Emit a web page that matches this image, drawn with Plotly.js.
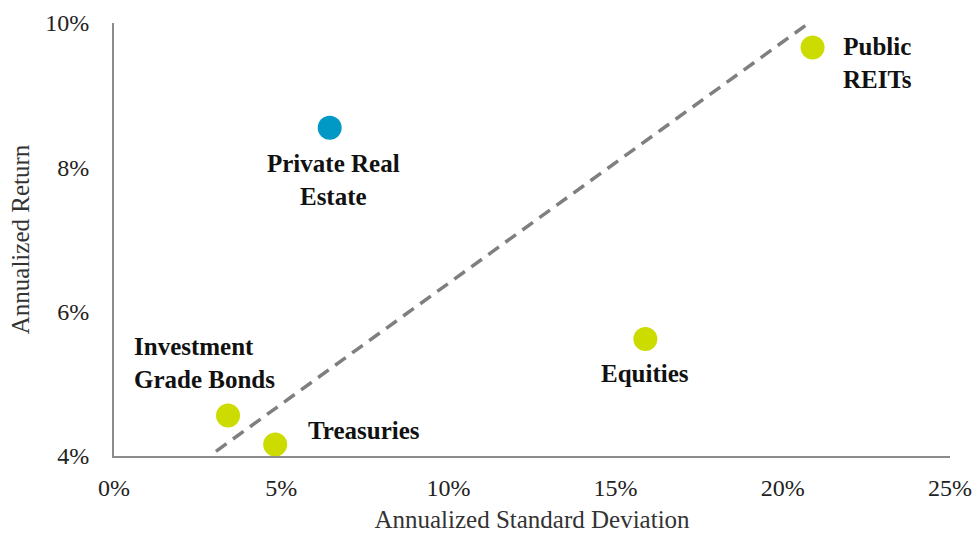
<!DOCTYPE html>
<html>
<head>
<meta charset="utf-8">
<script src="https://cdn.plot.ly/plotly-3.0.1.min.js"></script>
<style>html,body{margin:0;padding:0;background:#fff;}#chart{width:976px;height:533px;}</style>
</head>
<body>
<div id="chart"></div>
<script>
// Data (percent units)
const names = ["Private Real<br>Estate", "Public<br>REITs", "Equities", "Investment<br>Grade Bonds", "Treasuries"];
const stdDev = [6.45, 20.89, 15.89, 3.41, 4.82];
const annReturn = [8.55, 9.66, 5.62, 4.56, 4.16];
const pointColors = ["#0099C6", "#CDDC00", "#CDDC00", "#CDDC00", "#CDDC00"];
const trendX = [3.05, 20.9];
const trendY = [4.065, 10.04];
const xTicks = [0, 5, 10, 15, 20, 25];
const yTicks = [4, 6, 8, 10];

// label offsets (px), anchors and alignment – styling only
const labelShift = [[4, -52], [65, -15], [0, -34], [-96, 53], [31, 14]];
const labelAnchor = ["center", "center", "center", "left", "left"];
const labelAlign = ["center", "center", "center", "left", "left"];

const FONT = "Liberation Serif, Times New Roman, serif";

const traces = [
  {
    x: trendX, y: trendY, mode: "lines", type: "scatter",
    line: {color: "#7f7f7f", width: 3.5, dash: "13px,8px"},
    hoverinfo: "skip", showlegend: false, cliponaxis: false
  },
  {
    x: stdDev, y: annReturn, mode: "markers", type: "scatter",
    marker: {size: 24, color: pointColors, line: {width: 0}},
    showlegend: false, cliponaxis: false
  }
];

const annotations = names.map((n, i) => ({
  x: stdDev[i], y: annReturn[i], xref: "x", yref: "y",
  text: "<b>" + n + "</b>", showarrow: false,
  xanchor: labelAnchor[i], yanchor: "middle", align: labelAlign[i],
  xshift: labelShift[i][0], yshift: labelShift[i][1],
  font: {family: FONT, size: 25, color: "#111111"}
}));

const layout = {
  width: 976, height: 533,
  margin: {l: 114, r: 26, t: 23, b: 77, pad: 0},
  paper_bgcolor: "#ffffff", plot_bgcolor: "#ffffff",
  font: {family: FONT, size: 24, color: "#222222"},
  xaxis: {
    range: [0, 25], tickvals: xTicks, ticktext: xTicks.map(v => v + "%"),
    showgrid: false, zeroline: false, showline: true, linecolor: "#8c8c8c", linewidth: 2,
    ticks: "", ticklen: 0, ticklabelstandoff: 9,
    tickfont: {family: FONT, size: 24, color: "#222222"},
    title: {text: "Annualized Standard Deviation", font: {family: FONT, size: 25, color: "#333333"}, standoff: 14}
  },
  yaxis: {
    range: [4, 10], tickvals: yTicks, ticktext: yTicks.map(v => v + "%"),
    showgrid: false, zeroline: false, showline: true, linecolor: "#8c8c8c", linewidth: 2,
    ticks: "", ticklen: 0, ticklabelstandoff: 18,
    tickfont: {family: FONT, size: 24, color: "#222222"},
    title: {text: "Annualized Return", font: {family: FONT, size: 25, color: "#333333"}, standoff: 8}
  },
  annotations: annotations,
  showlegend: false
};

Plotly.newPlot("chart", traces, layout, {displayModeBar: false, staticPlot: true});
</script>
</body>
</html>
